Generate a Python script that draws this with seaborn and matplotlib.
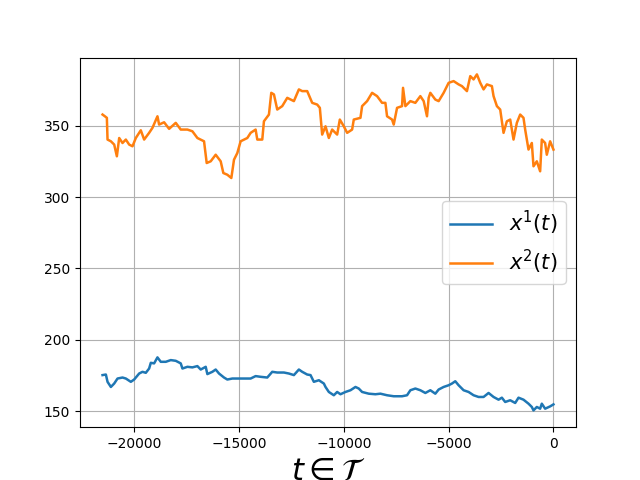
import matplotlib
matplotlib.use("Agg")
import matplotlib.pyplot as plt
import seaborn as sns
import pandas as pd

# series x^1(t) (blue)
t1 = [-21508, -21349, -21270, -21111, -20952, -20794, -20556, -20397, -20159, -20000,
      -19762, -19603, -19444, -19286, -19206, -19048, -18889, -18730, -18492, -18254,
      -18016, -17778, -17698, -17460, -17222, -16984, -16825, -16587, -16508, -16270,
      -16111, -15952, -15714, -15556, -15317, -15079, -14762, -14444, -14206, -13968,
      -13651, -13413, -13175, -12857, -12619, -12381, -12143, -11984, -11746, -11587,
      -11429, -11190, -10952, -10873, -10714, -10476, -10317, -10159, -9921, -9683,
      -9444, -9286, -9127, -8810, -8492, -8254, -7937, -7619, -7222, -6984,
      -6825, -6587, -6349, -6111, -5873, -5635, -5476, -5238, -5000, -4841,
      -4683, -4524, -4286, -4048, -3810, -3571, -3333, -3095, -2857, -2619,
      -2460, -2302, -2063, -1825, -1667, -1429, -1190, -1032, -952, -794,
      -635, -556, -397, -159, 0]
x1 = [175.4, 175.8, 170.7, 167.1, 169.5, 173.0, 173.7, 173.0, 170.7, 172.3,
      176.5, 177.7, 177.0, 180.0, 184.0, 183.6, 187.8, 184.7, 184.7, 185.9,
      185.4, 183.6, 180.0, 181.2, 180.8, 181.7, 179.3, 181.2, 176.1, 177.7,
      179.3, 176.5, 173.7, 172.3, 173.0, 173.0, 173.0, 173.0, 174.7, 174.2,
      173.7, 177.7, 177.2, 177.2, 176.5, 175.4, 179.3, 177.7, 175.8, 175.4,
      170.7, 171.8, 169.5, 167.1, 163.6, 161.3, 163.6, 162.0, 163.6, 164.8,
      167.1, 166.0, 163.6, 162.4, 162.0, 162.4, 161.3, 160.6, 160.6, 161.3,
      164.8, 166.0, 164.8, 162.9, 164.8, 162.4, 165.3, 167.1, 168.3, 169.5,
      171.1, 168.3, 164.8, 163.6, 161.3, 160.1, 160.1, 162.9, 160.1, 158.2,
      159.6, 156.6, 157.8, 155.9, 159.6, 158.2, 155.4, 153.1, 150.7, 153.1,
      151.9, 155.4, 151.9, 153.5, 154.9]

# series x^2(t) (orange)
t2 = [-21508, -21397, -21302, -21270, -21111, -20952, -20825, -20714, -20556, -20397,
      -20238, -20079, -19921, -19683, -19524, -19286, -19127, -18889, -18810, -18571,
      -18333, -18016, -17778, -17460, -17222, -16984, -16667, -16540, -16349, -16111,
      -15873, -15746, -15556, -15365, -15238, -15079, -14921, -14603, -14444, -14206,
      -14127, -13889, -13810, -13571, -13460, -13333, -13175, -12937, -12698, -12381,
      -12143, -11984, -11746, -11508, -11270, -11143, -11032, -10873, -10714, -10556,
      -10317, -10190, -10000, -9841, -9603, -9524, -9206, -9127, -8889, -8651,
      -8413, -8175, -8016, -7937, -7698, -7619, -7460, -7222, -7175, -7063,
      -6825, -6587, -6349, -6190, -6032, -5952, -5873, -5635, -5476, -5238,
      -5000, -4762, -4524, -4365, -4127, -3968, -3810, -3651, -3492, -3333,
      -3175, -2937, -2857, -2698, -2540, -2381, -2222, -2063, -1905, -1746,
      -1587, -1429, -1349, -1190, -1032, -952, -794, -635, -556, -397,
      -317, -159, 0]
x2 = [357.7, 356.5, 355.4, 340.2, 339.0, 336.7, 328.5, 341.3, 337.8, 340.2,
      336.7, 335.5, 341.3, 346.7, 340.2, 344.9, 348.4, 356.5, 350.7, 352.3,
      347.7, 351.9, 347.2, 347.2, 346.0, 341.3, 339.0, 323.8, 325.0, 329.6,
      325.0, 316.8, 315.6, 313.3, 326.1, 330.8, 339.0, 341.3, 344.9, 347.2,
      340.2, 340.2, 353.0, 357.7, 372.9, 371.8, 361.2, 363.6, 369.4, 367.1,
      375.3, 374.1, 374.1, 365.9, 364.7, 362.4, 343.7, 349.5, 341.3, 347.2,
      343.7, 354.2, 349.5, 344.9, 347.2, 354.2, 355.4, 363.6, 367.1, 372.9,
      370.6, 365.9, 365.9, 356.5, 354.2, 350.7, 362.4, 363.6, 376.4, 363.6,
      367.1, 365.9, 370.6, 367.1, 356.5, 369.4, 372.9, 368.2, 367.1, 372.9,
      379.9, 381.1, 378.8, 377.6, 374.1, 384.6, 382.3, 385.8, 379.9, 375.3,
      378.8, 377.6, 370.6, 363.6, 361.2, 344.9, 353.0, 354.2, 340.2, 351.9,
      357.7, 355.4, 347.2, 333.2, 337.8, 321.5, 325.0, 318.0, 340.2, 337.8,
      329.6, 339.0, 333.2]

df1 = pd.DataFrame({"t": t1, "x": x1})
df2 = pd.DataFrame({"t": t2, "x": x2})

fig, ax = plt.subplots(figsize=(6.4, 4.8), dpi=100)
sns.lineplot(data=df1, x="t", y="x", ax=ax, color="C0", lw=1.8,
             label=r"$x^1(t)$", sort=False, estimator=None)
sns.lineplot(data=df2, x="t", y="x", ax=ax, color="C1", lw=1.8,
             label=r"$x^2(t)$", sort=False, estimator=None)

ax.grid(True)
ax.set_xlabel(r"$t \in \mathcal{T}$", fontsize=22)
ax.set_ylabel("")
ax.legend(loc="center right", fontsize=15)

fig.savefig("out.png")
